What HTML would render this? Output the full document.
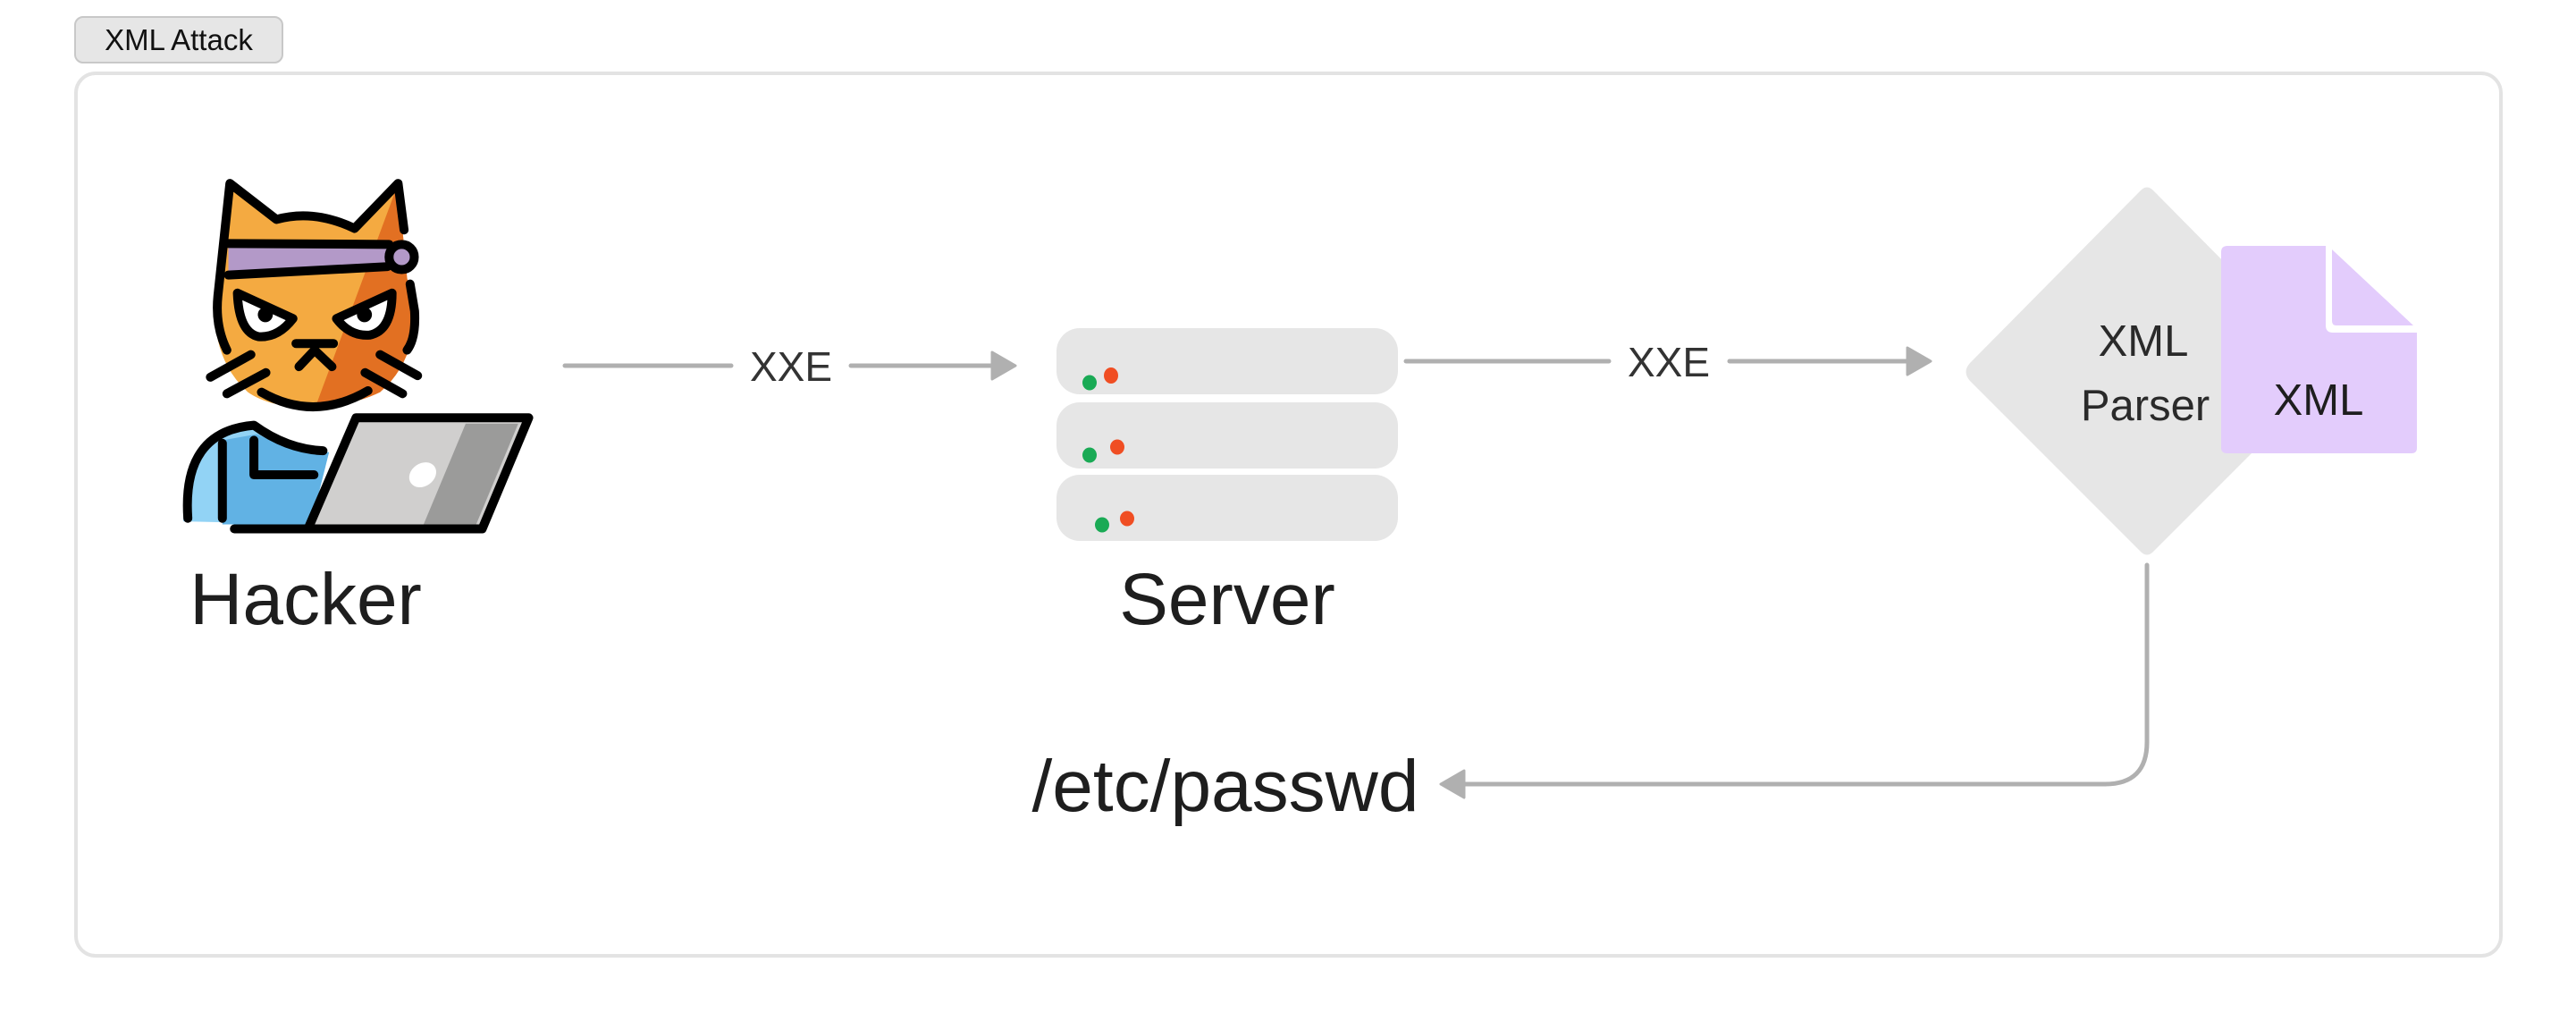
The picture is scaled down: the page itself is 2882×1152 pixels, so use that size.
<!DOCTYPE html>
<html><head><meta charset="utf-8"><style>
html,body{margin:0;padding:0;background:#fff;width:2882px;height:1152px;overflow:hidden}
svg{display:block}
text{font-family:"Liberation Sans",Arial,sans-serif;fill:#1e1e1e}
</style></head><body>
<svg width="2882" height="1152" viewBox="0 0 2882 1152" xmlns="http://www.w3.org/2000/svg">
<defs>
<marker id="ah" viewBox="0 0 10 10" refX="9" refY="5" markerWidth="6" markerHeight="6" orient="auto-start-reverse" markerUnits="userSpaceOnUse" style="overflow:visible">
</marker>
</defs>
<!-- badge -->
<rect x="84" y="19" width="232" height="51" rx="9" fill="#e6e6e6" stroke="#c8c8c8" stroke-width="2"/>
<text x="200" y="56" font-size="33" text-anchor="middle" style="fill:#111">XML Attack</text>
<!-- container -->
<rect x="85" y="82" width="2713" height="987" rx="22" fill="#fff" stroke="#e3e3e3" stroke-width="4"/>

<!-- cat -->
<g transform="translate(190,190) scale(0.336)" stroke-linecap="round" stroke-linejoin="round">
 <path d="M200,45 L355,165 Q480,130 615,195 L760,45 L790,360 L815,470 Q815,640 700,740 Q560,800 480,795 Q330,790 260,740 Q150,640 150,470 Z" fill="#F4AA41"/>
 <path d="M740,100 L760,45 L790,360 L815,470 Q815,640 700,740 Q600,790 490,775 Z" fill="#E27022"/>
 <path d="M195,255 L750,262 L750,318 L195,338 Z" fill="#B399C8"/>
 <path d="M45,1170 Q40,900 280,850 Q400,930 530,940 L470,1180 Z" fill="#92D3F5"/>
 <path d="M175,900 L290,880 Q400,930 530,940 L470,1180 L175,1180 Z" fill="#61B2E4"/>
 <path d="M620,825 L1195,825 L1040,1195 L460,1195 Z" fill="#D0CFCE"/>
 <path d="M985,845 L1160,845 L1020,1180 L845,1180 Z" fill="#9B9B9A"/>
 <ellipse cx="842" cy="1015" rx="48" ry="38" transform="rotate(-35 842 1015)" fill="#fff"/>
 <g fill="none" stroke="#000" stroke-width="10" vector-effect="non-scaling-stroke">
  <path vector-effect="non-scaling-stroke" d="M190,600 Q150,520 160,420 L200,45 L355,165 Q480,130 615,195 L760,45 L780,200"/>
  <path vector-effect="non-scaling-stroke" d="M800,380 L815,470 Q820,560 790,600"/>
  <path vector-effect="non-scaling-stroke" d="M305,740 Q480,840 660,735"/>
  <path vector-effect="non-scaling-stroke" d="M195,245 L730,248"/>
  <path vector-effect="non-scaling-stroke" d="M195,350 L725,322"/>
  <circle vector-effect="non-scaling-stroke" cx="772" cy="290" r="42" fill="#B399C8"/>
  <path vector-effect="non-scaling-stroke" d="M225,410 L410,495 Q360,560 295,555 Q230,540 225,410 Z" fill="#fff"/>
  <path vector-effect="non-scaling-stroke" d="M740,410 L555,495 Q600,555 665,550 Q740,535 740,410 Z" fill="#fff"/>
  <path vector-effect="non-scaling-stroke" d="M420,578 L545,578 M430,655 L482,600 L540,655"/>
  <path vector-effect="non-scaling-stroke" d="M135,690 L270,615 M190,745 L320,675 M700,615 L825,685 M650,675 L775,745"/>
  <path vector-effect="non-scaling-stroke" d="M60,1160 Q40,870 280,850 Q390,930 510,935"/>
  <path vector-effect="non-scaling-stroke" d="M175,1160 L175,910 M280,900 L280,1015 L480,1015"/>
  <path vector-effect="non-scaling-stroke" d="M215,1195 L1040,1195 L1195,825 L620,825 L460,1195"/>
 </g>
 <circle cx="318" cy="482" r="25" fill="#000"/>
 <circle cx="648" cy="482" r="25" fill="#000"/>
</g>
<text x="342" y="698" font-size="82" text-anchor="middle">Hacker</text>

<!-- arrow 1 -->
<line x1="632" y1="409" x2="818" y2="409" stroke="#b0b0b0" stroke-width="5" stroke-linecap="round"/>
<line x1="952" y1="409" x2="1115" y2="409" stroke="#b0b0b0" stroke-width="5" stroke-linecap="round"/>
<path d="M1110,394 L1136,409 L1110,424 Z" fill="#b0b0b0" stroke="#b0b0b0" stroke-width="3" stroke-linejoin="round"/>
<text x="885" y="426" font-size="46" text-anchor="middle" style="fill:#333">XXE</text>

<!-- server -->
<rect x="1182" y="367" width="382" height="74" rx="26" fill="#e6e6e6"/>
<rect x="1182" y="450" width="382" height="74" rx="26" fill="#e6e6e6"/>
<rect x="1182" y="531" width="382" height="74" rx="26" fill="#e6e6e6"/>
<ellipse cx="1219" cy="428" rx="8" ry="8.5" fill="#1aaa55"/>
<ellipse cx="1243" cy="420" rx="8" ry="9" fill="#f04e23"/>
<ellipse cx="1219" cy="509" rx="8" ry="8.5" fill="#1aaa55"/>
<ellipse cx="1250" cy="500" rx="8" ry="8.5" fill="#f04e23"/>
<ellipse cx="1233" cy="587" rx="8" ry="8.5" fill="#1aaa55"/>
<ellipse cx="1261" cy="580" rx="8" ry="8.5" fill="#f04e23"/>
<text x="1373" y="698" font-size="82" text-anchor="middle">Server</text>

<!-- arrow 2 -->
<line x1="1573" y1="404" x2="1800" y2="404" stroke="#b0b0b0" stroke-width="5" stroke-linecap="round"/>
<line x1="1935" y1="404" x2="2140" y2="404" stroke="#b0b0b0" stroke-width="5" stroke-linecap="round"/>
<path d="M2134,389 L2160,404 L2134,419 Z" fill="#b0b0b0" stroke="#b0b0b0" stroke-width="3" stroke-linejoin="round"/>
<text x="1867" y="421" font-size="46" text-anchor="middle" style="fill:#333">XXE</text>

<!-- diamond -->
<path d="M2394,214 Q2402,205 2410,214 L2600,406 Q2609,416 2600,426 L2410,616 Q2402,625 2394,616 L2204,426 Q2195,416 2204,406 Z" fill="#e6e6e6"/>
<text x="2398" y="398" font-size="49" text-anchor="middle" style="fill:#2a2a2a">XML</text>
<text x="2400" y="470" font-size="49" text-anchor="middle" style="fill:#2a2a2a">Parser</text>
<!-- document -->
<path d="M2492,275 L2602,275 L2602,364 Q2602,372 2610,372 L2704,372 L2704,501 Q2704,507 2698,507 L2492,507 Q2485,507 2485,501 L2485,282 Q2485,275 2492,275 Z" fill="#e3ccfc"/>
<path d="M2609,279 L2700,364 L2614,364 Q2609,364 2609,359 Z" fill="#e3ccfc"/>
<text x="2594" y="464" font-size="49" text-anchor="middle" style="fill:#1e1e1e">XML</text>

<!-- return path -->
<path d="M2402,632 L2402,830 Q2402,877 2355,877 L1630,877" fill="none" stroke="#b0b0b0" stroke-width="5" stroke-linecap="round"/>
<path d="M1638,862 L1612,877 L1638,892 Z" fill="#b0b0b0" stroke="#b0b0b0" stroke-width="3" stroke-linejoin="round"/>
<text x="1371" y="907" font-size="82" text-anchor="middle">/etc/passwd</text>
</svg>
</body></html>
